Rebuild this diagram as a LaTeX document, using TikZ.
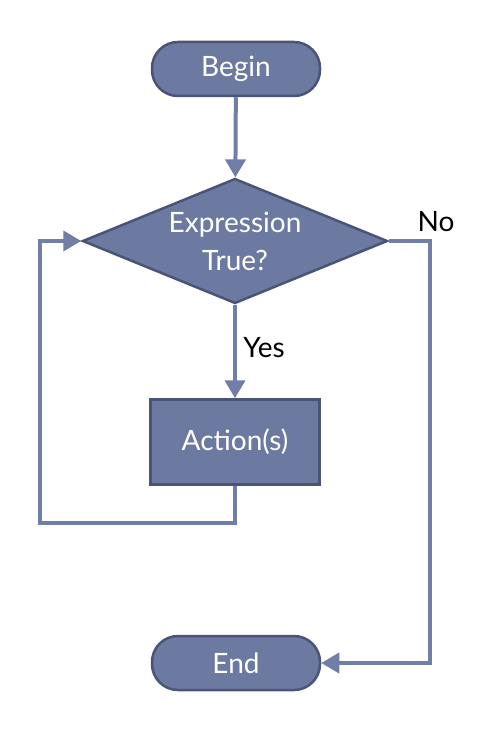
\documentclass[tikz,border=0pt]{standalone}
\usepackage{fontspec}
\setmainfont{Lato}
\usepackage{tikz}
\usetikzlibrary{arrows.meta,shapes.geometric}

\definecolor{boxfill}{RGB}{108,121,161}
\definecolor{boxline}{RGB}{74,84,120}
\definecolor{flowline}{RGB}{112,126,168}

\begin{document}
\begin{tikzpicture}[> = {Triangle[width=20pt,length=18pt]}, % arrow head style
	x=1pt,y=-1pt,
	line width=4pt,
	every node/.style={fill=boxfill,draw=boxline,line width=2.5pt,text=white,font=\fontsize{28}{38}\selectfont,inner sep=0pt},
	terminal/.style={rectangle,rounded corners=26pt,minimum width=168pt,minimum height=54pt},
	decision/.style={diamond,aspect=2.44,inner sep=-8pt,minimum width=305pt,minimum height=125pt,align=center},
	process/.style={rectangle,minimum width=169pt,minimum height=85pt},
	tag/.style={fill=none,draw=none,text=black}]
	\useasboundingbox (0,0) rectangle (488,746);

	\node[terminal] (begin) at (236,69)   {Begin};
	\node[decision] (test)  at (235,241)  {Expression\\True?};
	\node[process]  (act)   at (235,442)  {Action(s)};
	\node[terminal] (end)   at (236,663)  {End};

	\node[tag] (no)  at (436,222) {No};
	\node[tag] (yes) at (264,348) {Yes};

	\coordinate (loopdown) at (235,523);
	\coordinate (loopleft) at (40,523);

	\draw[->,flowline] (begin)--(test);
	\draw[->,flowline] (test)--(act);
	\draw[->,flowline] (act.south)--(loopdown)--(loopleft)--(loopleft |- test.west)--(test.west);
	\draw[->,flowline] (test.east)--(430,241)--(430,663)--(end.east);

\end{tikzpicture}
\end{document}
